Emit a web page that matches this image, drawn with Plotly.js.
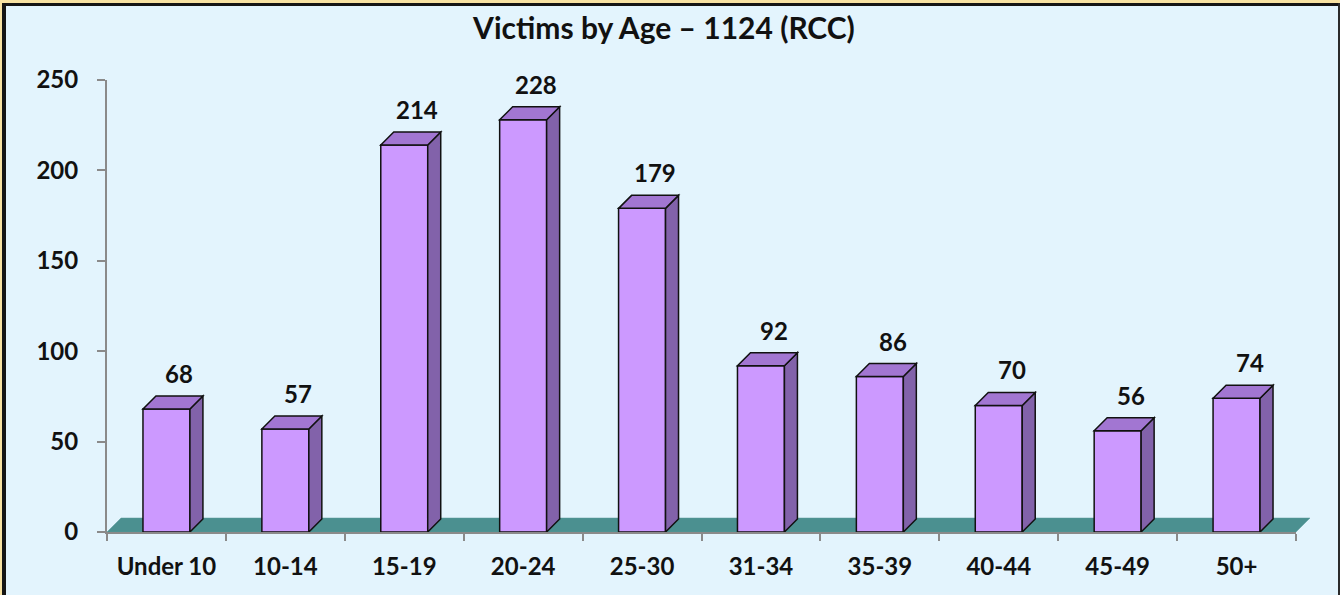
<!DOCTYPE html>
<html>
<head>
<meta charset="utf-8">
<script src="https://cdn.plot.ly/plotly-3.0.1.min.js"></script>
<style>
  html, body { margin: 0; padding: 0; background: #E3F4FD; }
  #wrap { position: relative; width: 1340px; height: 595px; overflow: hidden; }
  #chart { position: absolute; left: 0; top: 0; width: 1340px; height: 595px; }
  .bd { position: absolute; pointer-events: none; }
</style>
</head>
<body>
<div id="wrap">
  <div id="chart"></div>
  <div class="bd" style="left:0;top:0;width:1340px;height:3px;background:#F8E2A2;"></div>
  <div class="bd" style="left:0;top:0;width:2px;height:595px;background:#F8E2A2;"></div>
  <div class="bd" style="left:2px;top:3px;width:1338px;height:3px;background:#151515;"></div>
  <div class="bd" style="left:2px;top:3px;width:4px;height:592px;background:#151515;"></div>
  <div class="bd" style="left:1338px;top:3px;width:2px;height:592px;background:#2a2a2a;"></div>
</div>
<script>
// ---- data ----
const categories = ["Under 10", "10-14", "15-19", "20-24", "25-30", "31-34", "35-39", "40-44", "45-49", "50+"];
const victims = [68, 57, 214, 228, 179, 92, 86, 70, 56, 74];
const yTicks = [0, 50, 100, 150, 200, 250];
const titleText = "Victims by Age \u2013 1124 (RCC)";

// ---- geometry / style ----
const W = 1340, H = 595;
const M = { l: 107, r: 44, t: 80, b: 63 };
const plotW = W - M.l - M.r, plotH = H - M.t - M.b;
const xRange = [-0.5, categories.length - 0.5];
const yRange = [0, 250];
const pxPerX = plotW / (xRange[1] - xRange[0]);
const pxPerY = plotH / (yRange[1] - yRange[0]);
const depthPx = 13;
const dX = depthPx / pxPerX, dY = depthPx / pxPerY;
const barW = 0.395;
const FRONT = "#CC99FF", TOP = "#A276D2", SIDE = "#8262AA", FLOOR = "#4B9090";
const FONT = "Lato, 'Open Sans', sans-serif";

const xIdx = categories.map((c, i) => i);

const shapes = [];
// floor (paper coords)
const fdx = 14 / plotW, fdy = 14 / plotH;
shapes.push({
  type: "path", xref: "paper", yref: "paper", layer: "below",
  path: `M 0 0 L ${fdx} ${fdy} L ${1 + fdx} ${fdy} L 1 0 Z`,
  fillcolor: FLOOR, line: { color: "#5a9a9a", width: 0.5 }
});
// 3D faces
victims.forEach((v, i) => {
  const xl = i - barW / 2, xr = i + barW / 2;
  shapes.push({
    type: "path", xref: "x", yref: "y", layer: "above",
    path: `M ${xr} 0 L ${xr} ${v} L ${xr + dX} ${v + dY} L ${xr + dX} ${dY} Z`,
    fillcolor: SIDE, line: { color: "#111", width: 1.5 }
  });
  shapes.push({
    type: "path", xref: "x", yref: "y", layer: "above",
    path: `M ${xl} ${v} L ${xl + dX} ${v + dY} L ${xr + dX} ${v + dY} L ${xr} ${v} Z`,
    fillcolor: TOP, line: { color: "#111", width: 1.5 }
  });
});

const annotations = victims.map((v, i) => ({
  x: i + dX, y: v + dY, xref: "x", yref: "y",
  text: String(v), showarrow: false, yanchor: "bottom", yshift: 6,
  font: { family: FONT, size: 24, color: "#111", weight: "bold" }
}));

const trace = {
  type: "bar", x: xIdx, y: victims, width: barW,
  marker: { color: FRONT, line: { color: "#111", width: 1.5 } },
  hoverinfo: "x+y"
};

const boundaries = [];
for (let i = 0; i <= categories.length; i++) boundaries.push(i - 0.5);

const layout = {
  width: W, height: H, margin: M,
  paper_bgcolor: "#E3F4FD", plot_bgcolor: "rgba(0,0,0,0)",
  showlegend: false,
  title: {
    text: titleText, x: 0.4955, xanchor: "center", y: 0.952, yanchor: "middle",
    font: { family: FONT, size: 30, color: "#111", weight: "bold" }
  },
  xaxis: {
    range: xRange, tickmode: "array", tickvals: xIdx, ticktext: categories,
    ticks: "", showgrid: false, zeroline: false,
    showline: true, linecolor: "#8a8a8a", linewidth: 2,
    ticklabelstandoff: 12,
    tickfont: { family: FONT, size: 24, color: "#111", weight: "bold" },
    minor: { tickmode: "array", tickvals: boundaries, ticks: "outside", ticklen: 7, tickwidth: 2, tickcolor: "#8a8a8a", showgrid: false },
    fixedrange: true
  },
  yaxis: {
    range: yRange, tickmode: "array", tickvals: yTicks,
    ticks: "outside", ticklen: 8, tickwidth: 2, tickcolor: "#8a8a8a",
    showline: true, linecolor: "#8a8a8a", linewidth: 2,
    showgrid: false, zeroline: false,
    ticklabelstandoff: 14,
    tickfont: { family: FONT, size: 24, color: "#111", weight: "bold" },
    fixedrange: true
  },
  shapes: shapes,
  annotations: annotations
};

Plotly.newPlot("chart", [trace], layout, { displayModeBar: false, staticPlot: true });
</script>
</body>
</html>
